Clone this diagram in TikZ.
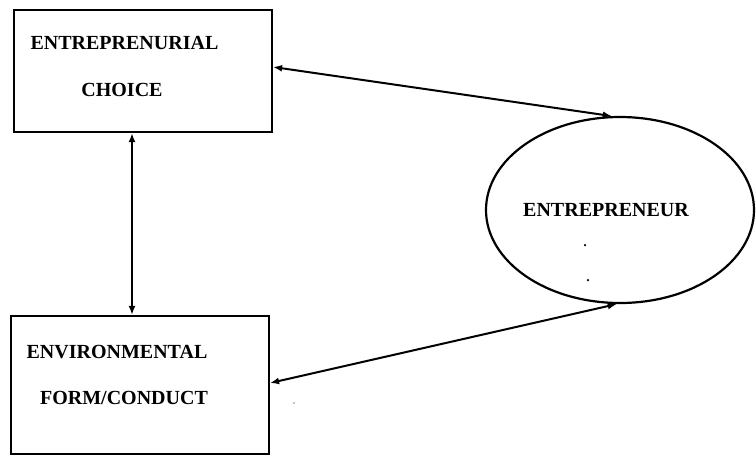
\documentclass[tikz,border=0pt]{standalone}
\usepackage{fontspec}
\setmainfont{Liberation Serif}
\usetikzlibrary{shapes.geometric,arrows.meta}
\begin{document}
\begin{tikzpicture}[x=1pt,y=-1pt,
  box/.style={draw,line width=2.2pt,rectangle,inner sep=0pt},
  oval/.style={draw,line width=2.2pt,ellipse,inner sep=0pt},
  lbl/.style={font=\fontsize{20}{24}\selectfont\bfseries,inner sep=0pt},
  arr/.style={line width=2pt,{Latex[length=9pt,width=7pt]}-{Latex[length=9pt,width=7pt]}},
  speck/.style={fill=black,inner sep=0pt,minimum size=2.5pt,circle}]
\useasboundingbox (0,0) rectangle (756,456);
\fill[white] (0,0) rectangle (756,456);
\node[box,minimum width=258pt,minimum height=122pt] (top) at (143,71) {};
\node[box,minimum width=258pt,minimum height=138pt] (bot) at (140,385) {};
\node[oval,minimum width=268pt,minimum height=186pt] (ell) at (620,210) {};
\node[lbl] (t1) at (124.5,43) {ENTREPRENURIAL};
\node[lbl] (t2) at (122,90) {CHOICE};
\node[lbl] (b1) at (117,352) {ENVIRONMENTAL};
\node[lbl] (b2) at (124,398) {FORM/CONDUCT};
\node[lbl] (e1) at (606,210) {ENTREPRENEUR};
\node[speck] (s1) at (585,245) {};
\node[speck] (s2) at (588,280) {};
\node[speck,minimum size=1.2pt] (s3) at (294,403) {};
\draw[arr] ([yshift=4]top.east) -- (ell.95);
\draw[arr] ([yshift=2]bot.east) -- (ell.268);
\draw[arr] ([xshift=-11]top.south) -- ([xshift=-11]top.south |- bot.north);
\end{tikzpicture}
\end{document}
